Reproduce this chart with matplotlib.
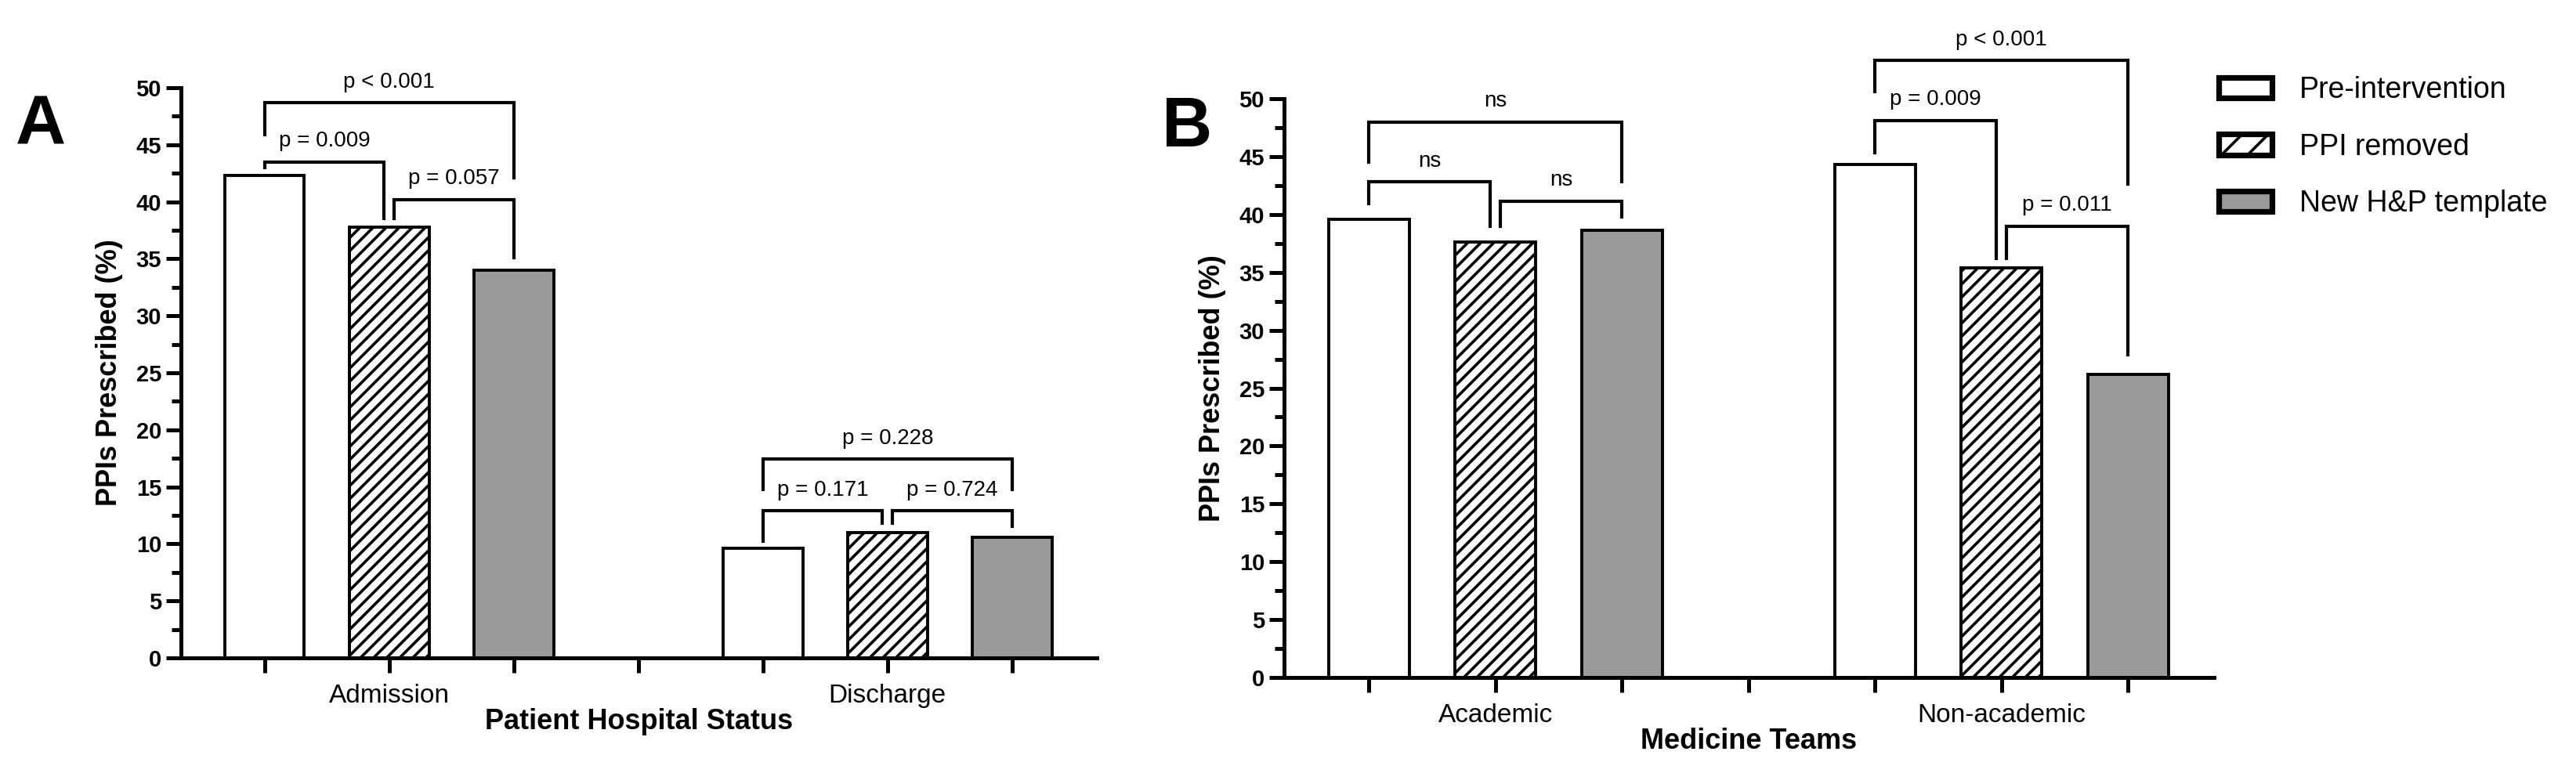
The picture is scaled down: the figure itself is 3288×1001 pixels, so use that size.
import matplotlib
matplotlib.use("Agg")
import matplotlib.pyplot as plt
from matplotlib.patches import Patch
from matplotlib.ticker import MultipleLocator

plt.rcParams['font.family'] = ['Liberation Sans', 'DejaVu Sans']
plt.rcParams['hatch.linewidth'] = 1.3

# series names and styles
series = ['Pre-intervention', 'PPI removed', 'New H&P template']
fills = ['white', 'white', '#9a9a9a']
hatches = ['', '////', '']

# panel A: patient hospital status
groups_a = ['Admission', 'Discharge']
pre_a = [42.3, 9.6]
removed_a = [37.8, 11.0]
template_a = [34.0, 10.6]

# panel B: medicine teams
groups_b = ['Academic', 'Non-academic']
pre_b = [39.6, 44.3]
removed_b = [37.6, 35.4]
template_b = [38.6, 26.2]

# comparisons: (bar i, bar j, label, bracket level, left leg end, right leg end)
stats_a = [
    (0, 1, 'p = 0.009', 43.5, 43.0, 38.5),
    (1, 2, 'p = 0.057', 40.2, 38.5, 35.1),
    (0, 2, 'p < 0.001', 48.7, 45.9, 42.1),
    (4, 5, 'p = 0.171', 12.9, 10.2, 11.8),
    (5, 6, 'p = 0.724', 12.9, 11.8, 11.55),
    (4, 6, 'p = 0.228', 17.45, 14.8, 14.8),
]
stats_b = [
    (0, 1, 'ns', 42.8, 40.9, 39.0),
    (1, 2, 'ns', 41.15, 39.0, 39.8),
    (0, 2, 'ns', 48.0, 44.5, 42.8),
    (4, 5, 'p = 0.009', 48.1, 45.3, 36.2),
    (5, 6, 'p = 0.011', 39.0, 36.2, 27.9),
    (4, 6, 'p < 0.001', 53.3, 50.6, 42.6),
]

LW = 1.8
W, H = 3288, 1001
fig = plt.figure(figsize=(W / 200, H / 200), dpi=200)


def draw_panel(ax, groups, values, stats, xlabel):
    n = len(values)
    for k in range(n):
        xs = [g * (n + 1) + k for g in range(len(groups))]
        ax.bar(xs, values[k], width=0.64, color=fills[k], hatch=hatches[k],
               edgecolor='black', linewidth=1.4, label=series[k], zorder=2)

    npos = len(groups) * (n + 1) - 1
    labels = [''] * npos
    for g, name in enumerate(groups):
        labels[g * (n + 1) + 1] = name
    ax.set_xticks(range(npos), labels=labels, fontsize=12)
    ax.set_xlim(-0.67, npos - 1 + 0.68)

    ax.set_ylim(0, 50)
    ax.yaxis.set_major_locator(MultipleLocator(5))
    ax.yaxis.set_minor_locator(MultipleLocator(2.5))
    for t in ax.get_yticklabels():
        t.set_fontweight('bold')
    ax.tick_params(axis='y', labelsize=10.5, pad=2)
    ax.tick_params(which='major', length=7, width=LW)
    ax.tick_params(which='minor', length=4.3, width=LW)
    ax.tick_params(axis='x', pad=5)

    for s in ['top', 'right']:
        ax.spines[s].set_visible(False)
    for s in ['left', 'bottom']:
        ax.spines[s].set_linewidth(LW)

    ax.set_ylabel('PPIs Prescribed (%)', fontsize=13, fontweight='bold', labelpad=6)
    ax.set_xlabel(xlabel, fontsize=13, fontweight='bold', labelpad=0)

    # significance brackets
    for i, j, text, level, lo_left, lo_right in stats:
        xl, xr = float(i), float(j)
        if j - i == 1:
            if any(a == j and b - a == 1 for a, b, *_ in stats):
                xr -= 0.04
            if any(b == i and b - a == 1 for a, b, *_ in stats):
                xl += 0.04
        ax.plot([xl, xl, xr, xr], [lo_left, level, level, lo_right],
                color='black', lw=1.5, clip_on=False, zorder=3,
                solid_joinstyle='miter')
        ax.text((xl + xr) / 2, level + 1.8, text, ha='center', va='center',
                fontsize=10, clip_on=False)


ax_a = fig.add_axes([231 / W, 1 - 840 / H, (1400 - 231) / W, 728 / H])
draw_panel(ax_a, groups_a, [pre_a, removed_a, template_a], stats_a,
           'Patient Hospital Status')

ax_b = fig.add_axes([1639 / W, 1 - 865 / H, (2826 - 1639) / W, 739 / H])
draw_panel(ax_b, groups_b, [pre_b, removed_b, template_b], stats_b,
           'Medicine Teams')

handles = [Patch(facecolor=fills[k], hatch=hatches[k].replace('////', '//'),
                 edgecolor='black', linewidth=2.6, label=series[k])
           for k in range(len(series))]
ax_b.legend(handles=handles, loc='upper left',
            bbox_to_anchor=(2832 / W, 1 - 97 / H),
            bbox_transform=fig.transFigure, frameon=False, fontsize=13.5,
            handlelength=1.8, handleheight=0.7, handletextpad=0.95,
            labelspacing=0.98, borderpad=0, borderaxespad=0)

fig.text(52 / W, 1 - 161 / H, 'A', fontsize=32, fontweight='bold',
         ha='center', va='center')
fig.text(1515 / W, 1 - 164 / H, 'B', fontsize=32, fontweight='bold',
         ha='center', va='center')

fig.savefig('out.png', dpi=200)
